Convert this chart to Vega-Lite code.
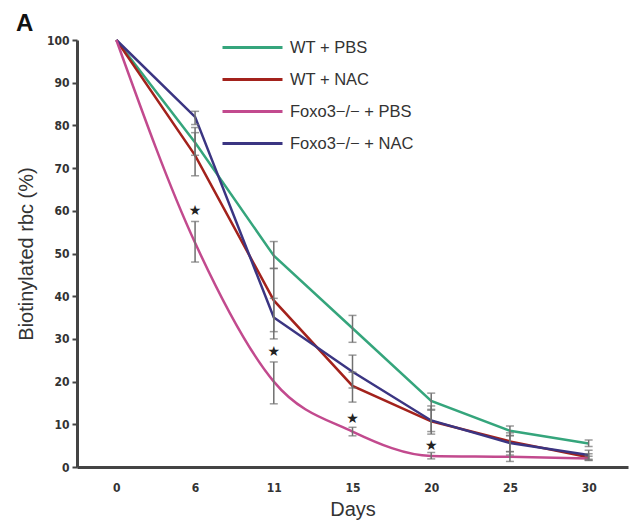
{
  "$schema": "https://vega.github.io/schema/vega-lite/v6.json",
  "width": 551,
  "height": 427,
  "autosize": {"type": "none"},
  "padding": {"left": 77, "top": 40, "right": 3, "bottom": 56},
  "background": "white",
  "title": {"text": "A", "anchor": "start", "frame": "group", "dx": -61, "dy": 11, "offset": 9, "fontSize": 24, "fontWeight": 900, "font": "Liberation Sans", "color": "#111"},
  "config": {
    "view": {"stroke": null},
    "font": "Liberation Sans"
  },
  "datasets": {
    "series": [
      {"group": "WT + PBS", "day": "0", "value": 100},
      {"group": "WT + PBS", "day": "6", "value": 76, "lo": 73, "hi": 79.5},
      {"group": "WT + PBS", "day": "11", "value": 49.5, "lo": 46.5, "hi": 52.8},
      {"group": "WT + PBS", "day": "15", "value": 32.5, "lo": 29.2, "hi": 35.5},
      {"group": "WT + PBS", "day": "20", "value": 15.5, "lo": 13.3, "hi": 17.3},
      {"group": "WT + PBS", "day": "25", "value": 8.5, "lo": 7.3, "hi": 9.6},
      {"group": "WT + PBS", "day": "30", "value": 5.5, "lo": 4.8, "hi": 6.3},
      {"group": "WT + NAC", "day": "0", "value": 100},
      {"group": "WT + NAC", "day": "6", "value": 73, "lo": 68.2, "hi": 78.3},
      {"group": "WT + NAC", "day": "11", "value": 39, "lo": 31.7, "hi": 46.5},
      {"group": "WT + NAC", "day": "15", "value": 19, "lo": 15.2, "hi": 22.2},
      {"group": "WT + NAC", "day": "20", "value": 10.7, "lo": 8.3, "hi": 13.5},
      {"group": "WT + NAC", "day": "25", "value": 6, "lo": 3.6, "hi": 8.0},
      {"group": "WT + NAC", "day": "30", "value": 2.3, "lo": 1.6, "hi": 3.1},
      {"group": "Foxo3−/− + PBS", "day": "0", "value": 100},
      {"group": "Foxo3−/− + PBS", "day": "6", "value": 52.5, "lo": 48, "hi": 57.5},
      {"group": "Foxo3−/− + PBS", "day": "11", "value": 20, "lo": 14.8, "hi": 24.6},
      {"group": "Foxo3−/− + PBS", "day": "15", "value": 8.3, "lo": 7.3, "hi": 9.3},
      {"group": "Foxo3−/− + PBS", "day": "20", "value": 2.6, "lo": 1.9, "hi": 3.4},
      {"group": "Foxo3−/− + PBS", "day": "25", "value": 2.4, "lo": 1.3, "hi": 3.6},
      {"group": "Foxo3−/− + PBS", "day": "30", "value": 2, "lo": 1.5, "hi": 2.5},
      {"group": "Foxo3−/− + NAC", "day": "0", "value": 100},
      {"group": "Foxo3−/− + NAC", "day": "6", "value": 82, "lo": 80.2, "hi": 83.3},
      {"group": "Foxo3−/− + NAC", "day": "11", "value": 35, "lo": 30, "hi": 39.5},
      {"group": "Foxo3−/− + NAC", "day": "15", "value": 22.3, "lo": 18.5, "hi": 26.2},
      {"group": "Foxo3−/− + NAC", "day": "20", "value": 10.9, "lo": 7.7, "hi": 14.3},
      {"group": "Foxo3−/− + NAC", "day": "25", "value": 5.6, "lo": 2.8, "hi": 7.4},
      {"group": "Foxo3−/− + NAC", "day": "30", "value": 2.8, "lo": 1.8, "hi": 3.9}
    ],
    "stars": [
      {"day": "6", "value": 60},
      {"day": "11", "value": 27},
      {"day": "15", "value": 11.3},
      {"day": "20", "value": 5}
    ]
  },
  "encoding": {
    "x": {
      "field": "day", "type": "ordinal",
      "sort": ["0", "6", "11", "15", "20", "25", "30"],
      "scale": {"type": "point", "padding": 0.5},
      "axis": {
        "title": "Days", "titleFontSize": 20, "titleFontWeight": "normal", "titleColor": "#333", "titlePadding": 6,
        "labelAngle": 0, "labelFont": "DejaVu Sans Condensed", "labelFontWeight": "bold", "labelFontSize": 12, "labelColor": "#333", "labelPadding": 15,
        "ticks": false, "domainColor": "#444", "domainWidth": 3, "grid": false
      }
    },
    "y": {
      "field": "value", "type": "quantitative",
      "scale": {"domain": [0, 100], "nice": false},
      "axis": {
        "title": "Biotinylated rbc (%)", "titleFontSize": 20, "titleFontWeight": "normal", "titleColor": "#333", "titlePadding": 10,
        "values": [0, 10, 20, 30, 40, 50, 60, 70, 80, 90, 100],
        "labelFont": "DejaVu Sans Condensed", "labelFontWeight": "bold", "labelFontSize": 12, "labelColor": "#333", "labelPadding": 3,
        "tickSize": 5, "tickWidth": 2, "tickColor": "#444", "domainColor": "#444", "domainWidth": 3, "grid": false
      }
    }
  },
  "layer": [
    {
      "data": {"name": "series"},
      "transform": [{"filter": "datum.group != 'Foxo3−/− + PBS'"}],
      "mark": {"type": "line", "strokeWidth": 2.5, "interpolate": "linear"},
      "encoding": {
        "color": {
          "field": "group", "type": "nominal",
          "scale": {
            "domain": ["WT + PBS", "WT + NAC", "Foxo3−/− + PBS", "Foxo3−/− + NAC"],
            "range": ["#35a57c", "#a3221c", "#c24a8e", "#3b3582"]
          },
          "legend": {
            "title": null, "orient": "none", "legendX": 164, "legendY": -4,
            "symbolType": "M-3,0H3", "symbolSize": 400, "symbolStrokeWidth": 3,
            "labelFontSize": 16.5, "labelColor": "#333", "labelFont": "Liberation Sans", "labelOffset": 26,
            "rowPadding": 12
          }
        }
      }
    },
    {
      "data": {"name": "series"},
      "transform": [{"filter": "datum.group == 'Foxo3−/− + PBS'"}],
      "mark": {"type": "line", "strokeWidth": 2.5, "interpolate": "monotone"},
      "encoding": {
        "color": {"field": "group", "type": "nominal"}
      }
    },
    {
      "data": {"name": "series"},
      "transform": [{"filter": "isValid(datum.lo)"}],
      "mark": {"type": "errorbar", "ticks": {"size": 8, "thickness": 1.5}, "color": "#707070", "thickness": 1.5},
      "encoding": {
        "y": {"field": "lo", "type": "quantitative"},
        "y2": {"field": "hi"}
      }
    },
    {
      "data": {"name": "stars"},
      "mark": {"type": "text", "text": "★", "font": "DejaVu Sans", "fontSize": 14, "color": "#222", "baseline": "middle"}
    }
  ]
}
